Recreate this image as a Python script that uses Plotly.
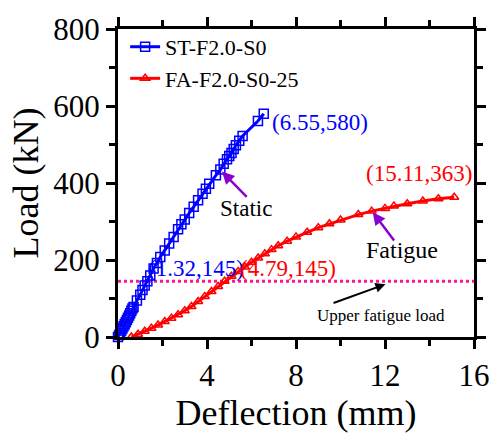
import plotly.graph_objects as go

# Static test: ST-F2.0-S0
static_defl = [0.0, 0.05, 0.1, 0.15, 0.2, 0.25, 0.3, 0.35, 0.4, 0.45, 0.5, 0.55, 0.6, 0.65,
               0.7, 0.85, 1.0, 1.1, 1.2, 1.32, 1.45, 1.6, 1.75, 1.9, 2.1, 2.3, 2.5, 2.7,
               2.85, 3.0, 3.2, 3.4, 3.6, 3.8, 3.95, 4.1, 4.4, 4.6, 4.75, 4.9, 5.0, 5.1,
               5.2, 5.3, 5.45, 5.6, 6.29, 6.55]
static_load = [0, 5, 10, 17, 22, 28, 33, 38, 44, 50, 56, 62, 68, 74,
               78, 95, 110, 122, 134, 145, 160, 178, 192, 208, 225, 243, 260, 280,
               293, 305, 322, 338, 355, 372, 385, 398, 420, 435, 450, 462, 470, 478,
               488, 498, 510, 522, 561, 580]

# Fatigue test: FA-F2.0-S0-25
fatigue_defl = [0.6, 0.9, 1.2, 1.5, 1.8, 2.1, 2.4, 2.7, 3.0, 3.3, 3.6, 3.9, 4.2, 4.5, 4.79,
                5.1, 5.4, 5.7, 6.0, 6.3, 6.6, 6.9, 7.2, 7.6, 8.0, 8.5, 9.0, 9.5, 10.0,
                10.8, 11.4, 12.0, 12.4, 13.0, 13.7, 14.4, 15.11]
fatigue_load = [0, 7, 15, 23, 31, 40, 49, 58, 68, 79, 92, 105, 118, 131, 145,
                158, 170, 182, 194, 205, 216, 227, 237, 249, 260, 272, 284, 294, 304,
                318, 327, 334, 340, 346, 353, 359, 363]

upper_fatigue_load = 145

FONT = "Times New Roman, Liberation Serif, serif"

fig = go.Figure()

fig.add_trace(go.Scatter(
    x=[0, 16], y=[upper_fatigue_load] * 2, mode="lines",
    line=dict(color="#FF1493", width=3, dash="dot"), showlegend=False,
    cliponaxis=False))

fig.add_trace(go.Scatter(
    x=static_defl, y=static_load, mode="lines+markers", name="ST-F2.0-S0",
    line=dict(color="#0000FF", width=3),
    marker=dict(symbol="square-open", size=9, color="#0000FF", line=dict(width=1.5)),
    cliponaxis=False))

fig.add_trace(go.Scatter(
    x=fatigue_defl, y=fatigue_load, mode="lines+markers", name="FA-F2.0-S0-25",
    line=dict(color="#FF0000", width=3),
    marker=dict(symbol="triangle-up-open", size=8, color="#FF0000", line=dict(width=1.5)),
    cliponaxis=False))

annos = [
    dict(x=static_defl[-1], y=static_load[-1], text=f"({static_defl[-1]},{static_load[-1]})",
         xshift=6, yshift=-9, xanchor="left", color="#0000FF"),
    dict(x=fatigue_defl[-1], y=fatigue_load[-1], text=f"({fatigue_defl[-1]},{fatigue_load[-1]})",
         xshift=20, yshift=24, xanchor="right", color="#FF0000"),
    dict(x=1.32, y=upper_fatigue_load, text="(1.32,145)", xshift=-1, yshift=13,
         xanchor="left", color="#0000FF"),
    dict(x=4.79, y=upper_fatigue_load, text="(4.79,145)", xshift=13, yshift=13,
         xanchor="left", color="#FF0000"),
]
for a in annos:
    fig.add_annotation(x=a["x"], y=a["y"], text=a["text"], showarrow=False,
                       xanchor=a["xanchor"], yanchor="middle",
                       xshift=a["xshift"], yshift=a["yshift"],
                       font=dict(family=FONT, size=23, color=a["color"]))

# Labels with arrows
fig.add_annotation(x=4.67, y=430, ax=5.85, ay=360, axref="x", ayref="y",
                   text="", showarrow=True, arrowhead=2, arrowsize=1, arrowwidth=2.5,
                   arrowcolor="#8B00D0")
fig.add_annotation(x=5.75, y=334, text="Static", showarrow=False, yanchor="middle",
                   font=dict(family=FONT, size=23, color="black"))
fig.add_annotation(x=11.45, y=324, ax=12.46, ay=247, axref="x", ayref="y",
                   text="", showarrow=True, arrowhead=2, arrowsize=1, arrowwidth=2.5,
                   arrowcolor="#8B00D0")
fig.add_annotation(x=12.75, y=225, text="Fatigue", showarrow=False,
                   font=dict(family=FONT, size=24, color="black"))
fig.add_annotation(x=12.02, y=137, ax=9.62, ay=87, axref="x", ayref="y",
                   text="", showarrow=True, arrowhead=2, arrowsize=1, arrowwidth=2,
                   arrowcolor="black")
fig.add_annotation(x=11.8, y=55, text="Upper fatigue load", showarrow=False,
                   font=dict(family=FONT, size=17, color="black"))

axis_common = dict(
    showline=True, linewidth=3, linecolor="black", mirror="ticks",
    ticks="outside", ticklen=9, tickwidth=3, tickcolor="black",
    showgrid=False, zeroline=False,
    tickfont=dict(family=FONT, size=31, color="black"),
)

fig.update_xaxes(range=[0, 16], tickvals=[0, 4, 8, 12, 16],
                 minor=dict(ticks="outside", tickvals=[2, 6, 10, 14], ticklen=6,
                            tickwidth=3, tickcolor="black"),
                 title=dict(text="Deflection (mm)", font=dict(family=FONT, size=36, color="black"),
                            standoff=2),
                 **axis_common)
fig.update_yaxes(range=[0, 800], tickvals=[0, 200, 400, 600, 800],
                 minor=dict(ticks="outside", tickvals=[100, 300, 500, 700], ticklen=6,
                            tickwidth=3, tickcolor="black"),
                 title=dict(text="Load (kN)", font=dict(family=FONT, size=36, color="black"),
                            standoff=4),
                 **axis_common)

fig.update_layout(
    width=502, height=435,
    margin=dict(l=118, r=18, t=23, b=98),
    paper_bgcolor="white", plot_bgcolor="white",
    legend=dict(x=0.02, y=1.01, xanchor="left", yanchor="top",
                bgcolor="rgba(0,0,0,0)", borderwidth=0,
                font=dict(family=FONT, size=22, color="black"),
                tracegroupgap=0, itemwidth=30),
)

fig.write_html("out.html")
